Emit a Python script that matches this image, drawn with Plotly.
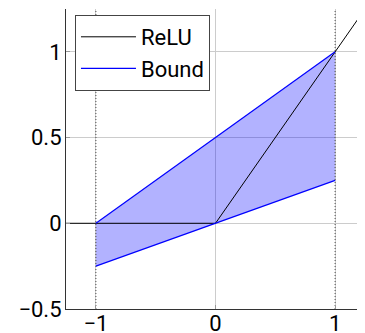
import plotly.graph_objects as go

relu_x = [-1.25, 0, 1.25]
relu_y = [0, 0, 1.25]
bound_x = [-1, 1]
upper_y = [0, 1]
lower_y = [-0.25, 0.25]
vline_x = [-1, 1]
x_range = [-1.25, 1.25]
y_range = [-0.5, 1.25]
x_ticks = [-1, 0, 1]
x_labels = ["\u22121", "0", "1"]
y_ticks = [-0.5, 0, 0.5, 1]
y_labels = ["\u22120.5", "0", "0.5", "1"]

FONT = "Roboto"
FS = 22
fig = go.Figure()

# shaded region between bounds
fig.add_trace(go.Scatter(
    x=bound_x + bound_x[::-1], y=lower_y + upper_y[::-1],
    fill="toself", fillcolor="rgba(0,0,255,0.3)", mode="none",
    showlegend=False, hoverinfo="skip"))

# dotted vertical lines
for vx in vline_x:
    fig.add_trace(go.Scatter(
        x=[vx, vx], y=y_range, mode="lines",
        line=dict(color="rgba(60,60,60,0.9)", width=1, dash="1px,2px"),
        showlegend=False, hoverinfo="skip"))

fig.add_trace(go.Scatter(x=relu_x, y=relu_y, mode="lines", name="ReLU",
                         line=dict(color="black", width=1)))
fig.add_trace(go.Scatter(x=bound_x, y=upper_y, mode="lines", name="Bound",
                         line=dict(color="blue", width=1.2)))
fig.add_trace(go.Scatter(x=bound_x, y=lower_y, mode="lines", name="Bound",
                         line=dict(color="blue", width=1.2), showlegend=False))

# the page body adds an 8px offset, so the figure is sized to compensate
fig.update_layout(
    width=357, height=325,
    margin=dict(l=58, r=0, t=1, b=24),
    plot_bgcolor="white", paper_bgcolor="white",
    font=dict(family=FONT, size=FS, color="black"),
    legend=dict(x=0.03, y=0.98, xanchor="left", yanchor="top",
                bordercolor="#444", borderwidth=1, bgcolor="white",
                font=dict(size=FS, family=FONT), tracegroupgap=0,
                itemwidth=55),
    xaxis=dict(range=x_range, tickvals=x_ticks, ticktext=x_labels,
               showgrid=True, gridcolor="#cccccc", gridwidth=1,
               showline=True, linecolor="#333", linewidth=1.2,
               ticks="inside", ticklen=4, tickcolor="#999",
               zeroline=False, fixedrange=True, automargin=False,
               ticklabelstandoff=-6),
    yaxis=dict(range=y_range, tickvals=y_ticks, ticktext=y_labels,
               showgrid=True, gridcolor="#cccccc", gridwidth=1,
               showline=True, linecolor="#333", linewidth=1.2,
               ticks="inside", ticklen=4, tickcolor="#999",
               zeroline=False, fixedrange=True, automargin=False,
               ticklabelstandoff=-1),
)
fig.write_html("out.html")
